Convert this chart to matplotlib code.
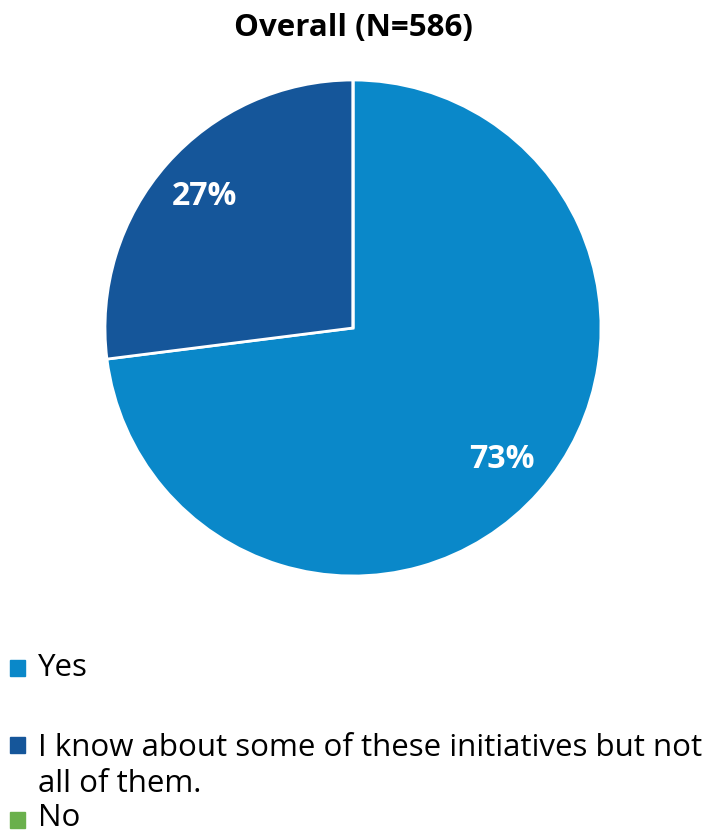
import matplotlib
matplotlib.use("Agg")
import matplotlib.pyplot as plt
from matplotlib.patches import Rectangle
import numpy as np

# ── data ─────────────────────────────────────────────
title = "Overall (N=586)"
categories = ["Yes", "I know about some of these initiatives but not\nall of them.", "No"]
shares = [73, 27, 0]
colors = ["#0A88C9", "#15569A", "#6AB04C"]

plt.rcParams["font.family"] = ["Open Sans", "DejaVu Sans"]

fig = plt.figure(figsize=(7.13, 8.35), dpi=100)

# pie centred around (353, 328) px, radius ~248 px
cx, cy, r = 353 / 713, 1 - 328 / 835, 248
ax = fig.add_axes([cx - r / 713, cy - r / 835, 2 * r / 713, 2 * r / 835])

wedges, _ = ax.pie(
    shares,
    colors=colors,
    startangle=90,
    counterclock=False,
    radius=1,
    wedgeprops=dict(edgecolor="white", linewidth=2),
)

# percentage labels only for non-empty slices
for w, v in zip(wedges, shares):
    if v == 0:
        continue
    ang = np.deg2rad((w.theta1 + w.theta2) / 2)
    ax.text(0.8 * np.cos(ang), 0.8 * np.sin(ang), f"{v}%",
            ha="center", va="center", color="white",
            fontsize=23, fontweight="bold")

ax.set_xlim(-1, 1)
ax.set_ylim(-1, 1)
ax.set_aspect("equal")
ax.axis("off")

fig.text(353 / 713, 1 - 28 / 835, title, ha="center", va="center",
         fontsize=22.5, fontweight="bold")

# legend drawn by hand (uneven spacing like the original)
square_y = [668, 745, 820]   # square centres (px from top)
text_y = [668, 766, 818]     # text block centres
for lab, col, sy, ty in zip(categories, colors, square_y, text_y):
    fig.add_artist(Rectangle((10 / 713, 1 - (sy + 8) / 835), 15 / 713, 16 / 835,
                             transform=fig.transFigure, color=col))
    fig.text(38 / 713, 1 - ty / 835, lab, ha="left", va="center",
             fontsize=22.5, linespacing=1.3)

fig.savefig("out.png", dpi=100)
